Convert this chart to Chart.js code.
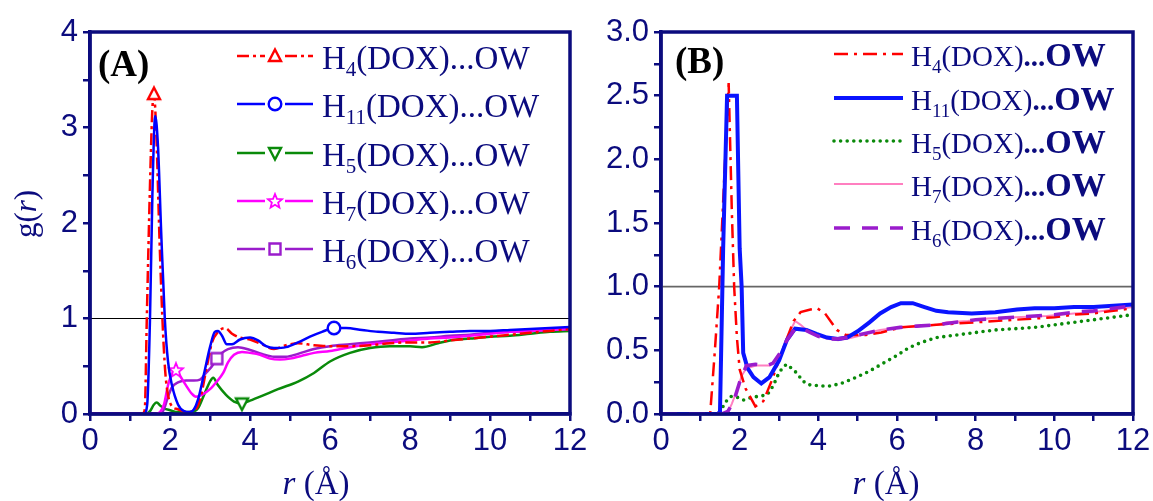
<!DOCTYPE html>
<html>
<head>
<meta charset="utf-8">
<script src="https://cdn.jsdelivr.net/npm/chart.js@4.4.0/dist/chart.umd.min.js"></script>
<style>
  body { margin: 0; background: #fff; }
  #wrap { position: relative; width: 1153px; height: 501px; overflow: hidden; background: #fff; }
  canvas { position: absolute; top: 0; }
  #cA { left: 0; }
  #cB { left: 580px; }
</style>
</head>
<body>
<div id="wrap">
  <canvas id="cA" width="600" height="501"></canvas>
  <canvas id="cB" width="573" height="501"></canvas>
</div>
<script>
const NAVY = '#0b0b7e';
const SERIF = '"Liberation Serif", "Times New Roman", serif';
const SANS = '"Liberation Sans", Arial, sans-serif';

// legend subscripts, same order in both panels: H4, H11, H5, H7, H6
const subs = ['4', '11', '5', '7', '6'];

// panel A: r (Angstrom) and g(r)
const rA_H4 = [0, 1.3, 1.37, 1.42, 1.5, 1.56, 1.6, 1.66, 1.74, 1.81, 1.88, 1.95, 2.05, 2.2, 2.4, 2.6, 2.75, 2.9, 3.05, 3.2, 3.38, 3.55, 3.75, 4.0, 4.3, 4.6, 4.9, 5.2, 5.6, 6.0, 6.5, 7.0, 7.5, 8.0, 8.5, 9.0, 9.5, 10.0, 10.5, 11.0, 11.5, 12.0];
const gA_H4 = [0, 0, 0.05, 1.0, 2.4, 3.2, 3.35, 2.9, 1.8, 1.0, 0.45, 0.2, 0.08, 0.05, 0.02, 0.03, 0.15, 0.45, 0.75, 0.86, 0.9, 0.84, 0.8, 0.78, 0.73, 0.68, 0.72, 0.74, 0.72, 0.71, 0.71, 0.72, 0.74, 0.75, 0.75, 0.77, 0.79, 0.81, 0.83, 0.85, 0.87, 0.89];
const rA_H11 = [0, 1.35, 1.43, 1.5, 1.56, 1.63, 1.7, 1.78, 1.87, 1.95, 2.05, 2.2, 2.35, 2.5, 2.6, 2.7, 2.85, 3.0, 3.12, 3.2, 3.3, 3.42, 3.55, 3.75, 4.0, 4.2, 4.4, 4.6, 4.9, 5.2, 5.5, 5.8, 6.1, 6.4, 6.8, 7.2, 7.6, 8.0, 8.5, 9.0, 9.5, 10.0, 10.5, 11.0, 11.5, 12.0];
const gA_H11 = [0, 0, 0.1, 1.0, 2.3, 3.12, 2.8, 1.9, 1.0, 0.55, 0.3, 0.1, 0.03, 0.02, 0.05, 0.15, 0.42, 0.7, 0.86, 0.87, 0.82, 0.73, 0.73, 0.78, 0.8, 0.77, 0.71, 0.69, 0.7, 0.75, 0.81, 0.86, 0.9, 0.9, 0.88, 0.86, 0.85, 0.84, 0.85, 0.86, 0.87, 0.87, 0.88, 0.89, 0.9, 0.91];
const rA_H5 = [0, 1.4, 1.5, 1.6, 1.67, 1.75, 1.85, 2.0, 2.2, 2.5, 2.7, 2.85, 3.0, 3.08, 3.2, 3.4, 3.6, 3.8, 4.0, 4.3, 4.7, 5.2, 5.6, 6.0, 6.5, 7.0, 7.5, 8.0, 8.3, 8.7, 9.0, 9.5, 10.0, 10.5, 11.0, 11.5, 12.0];
const gA_H5 = [0, 0, 0.03, 0.1, 0.12, 0.09, 0.06, 0.04, 0.02, 0.02, 0.06, 0.2, 0.34, 0.38, 0.3, 0.2, 0.13, 0.11, 0.14, 0.19, 0.26, 0.34, 0.43, 0.55, 0.64, 0.69, 0.71, 0.71, 0.7, 0.74, 0.77, 0.79, 0.81, 0.82, 0.84, 0.86, 0.87];
const rA_H7 = [0, 1.6, 1.75, 1.85, 1.95, 2.05, 2.15, 2.25, 2.4, 2.55, 2.65, 2.8, 3.0, 3.15, 3.33, 3.45, 3.6, 3.8, 4.0, 4.25, 4.5, 4.75, 5.0, 5.3, 5.6, 6.0, 6.5, 7.0, 7.5, 8.0, 8.5, 9.0, 9.5, 10.0, 10.5, 11.0, 11.5, 12.0];
const gA_H7 = [0, 0, 0.02, 0.1, 0.3, 0.42, 0.46, 0.4, 0.3, 0.21, 0.18, 0.2, 0.26, 0.33, 0.43, 0.54, 0.62, 0.65, 0.64, 0.62, 0.58, 0.57, 0.58, 0.61, 0.64, 0.66, 0.7, 0.73, 0.75, 0.77, 0.79, 0.8, 0.82, 0.84, 0.86, 0.87, 0.88, 0.89];
const rA_H6 = [0, 1.75, 1.85, 1.95, 2.05, 2.2, 2.4, 2.6, 2.75, 2.9, 3.05, 3.17, 3.3, 3.45, 3.7, 4.0, 4.3, 4.6, 4.9, 5.2, 5.6, 6.0, 6.5, 7.0, 7.5, 8.0, 8.5, 9.0, 9.5, 10.0, 10.5, 11.0, 11.5, 12.0];
const gA_H6 = [0, 0, 0.05, 0.18, 0.28, 0.33, 0.35, 0.35, 0.36, 0.43, 0.5, 0.58, 0.64, 0.68, 0.7, 0.67, 0.63, 0.6, 0.6, 0.63, 0.68, 0.71, 0.73, 0.75, 0.77, 0.79, 0.8, 0.82, 0.83, 0.85, 0.86, 0.87, 0.88, 0.89];
// r where each panel A curve carries its symbol
const markA = [1.6, 6.1, 3.8, 2.15, 3.17];

// panel B
const rB_H4 = [0, 1.25, 1.37, 1.48, 1.6, 1.72, 1.8, 1.86, 1.93, 2.0, 2.15, 2.4, 2.6, 2.8, 2.94, 3.15, 3.37, 3.55, 3.8, 3.97, 4.17, 4.47, 4.7, 5.2, 5.6, 6.1, 6.5, 7.0, 7.5, 8.0, 8.5, 9.0, 9.5, 10.0, 10.5, 11.0, 11.5, 12.0];
const gB_H4 = [0, 0, 0.5, 1.0, 1.8, 2.6, 1.6, 1.0, 0.6, 0.35, 0.2, 0.06, 0.1, 0.25, 0.37, 0.55, 0.73, 0.8, 0.82, 0.83, 0.79, 0.66, 0.62, 0.62, 0.64, 0.68, 0.69, 0.7, 0.71, 0.72, 0.73, 0.74, 0.75, 0.76, 0.78, 0.79, 0.81, 0.83];
const rB_H11 = [0, 1.45, 1.5, 1.58, 1.68, 1.93, 2.0, 2.05, 2.09, 2.2, 2.35, 2.55, 2.76, 3.0, 3.2, 3.41, 3.7, 3.95, 4.22, 4.5, 4.73, 5.0, 5.3, 5.57, 5.85, 6.1, 6.4, 6.7, 7.0, 7.3, 7.9, 8.5, 9.05, 9.5, 10.0, 10.5, 11.0, 11.5, 12.0];
const gB_H11 = [0, 0, 0.02, 1.3, 2.5, 2.5, 1.3, 1.0, 0.48, 0.36, 0.29, 0.24, 0.29, 0.42, 0.58, 0.67, 0.66, 0.63, 0.6, 0.59, 0.6, 0.65, 0.72, 0.79, 0.84, 0.87, 0.87, 0.84, 0.81, 0.8, 0.79, 0.8, 0.82, 0.83, 0.83, 0.84, 0.84, 0.85, 0.86];
const rB_H5 = [0, 1.45, 1.5, 1.6, 1.7, 1.8, 1.95, 2.1, 2.3, 2.5, 2.7, 2.85, 2.98, 3.1, 3.2, 3.35, 3.46, 3.6, 3.75, 4.05, 4.3, 4.58, 4.9, 5.26, 5.6, 6.0, 6.3, 6.6, 7.0, 7.5, 8.0, 8.5, 9.0, 9.5, 10.0, 10.5, 11.0, 11.5, 12.0];
const gB_H5 = [0, 0, 0.02, 0.07, 0.12, 0.14, 0.13, 0.11, 0.13, 0.14, 0.15, 0.22, 0.31, 0.37, 0.39, 0.35, 0.32, 0.26, 0.23, 0.22, 0.22, 0.24, 0.28, 0.33, 0.39, 0.46, 0.52, 0.56, 0.6, 0.62, 0.64, 0.66, 0.67, 0.68, 0.7, 0.72, 0.74, 0.76, 0.78];
const rB_H7 = [0, 1.6, 1.71, 1.8, 1.95, 2.05, 2.17, 2.42, 2.76, 3.03, 3.2, 3.41, 3.55, 3.7, 3.95, 4.22, 4.5, 4.73, 5.0, 5.3, 5.57, 6.08, 6.5, 7.0, 7.27, 7.8, 8.3, 9.0, 9.8, 10.5, 11.0, 11.5, 12.0];
const gB_H7 = [0, 0, 0.02, 0.08, 0.2, 0.3, 0.36, 0.38, 0.38, 0.46, 0.6, 0.73, 0.7, 0.66, 0.62, 0.59, 0.58, 0.59, 0.61, 0.64, 0.66, 0.68, 0.69, 0.7, 0.72, 0.73, 0.75, 0.76, 0.77, 0.79, 0.8, 0.82, 0.84];
const rB_H6 = [0, 1.55, 1.7, 1.85, 2.0, 2.17, 2.4, 2.7, 2.85, 3.03, 3.2, 3.41, 3.6, 3.8, 4.0, 4.22, 4.5, 4.73, 5.0, 5.3, 5.6, 6.08, 6.5, 7.0, 7.5, 8.0, 8.5, 9.0, 9.5, 10.0, 10.5, 11.0, 11.5, 12.0];
const gB_H6 = [0, 0, 0.02, 0.1, 0.25, 0.38, 0.39, 0.38, 0.4, 0.48, 0.58, 0.67, 0.67, 0.64, 0.61, 0.59, 0.59, 0.6, 0.62, 0.64, 0.66, 0.68, 0.69, 0.7, 0.72, 0.74, 0.75, 0.76, 0.77, 0.78, 0.8, 0.81, 0.83, 0.85];

const pts = (r, g) => r.map((x, i) => ({ x: x, y: g[i] }));

// open symbols drawn once on small canvases, used as point styles and in the legend
function makeMarker(kind, color) {
  const s = 18, m = s / 2;
  const c = document.createElement('canvas');
  c.width = s; c.height = s;
  const x = c.getContext('2d');
  x.strokeStyle = color;
  x.fillStyle = '#fff';
  x.lineWidth = 2.4;
  x.beginPath();
  if (kind === 'tri') {
    x.moveTo(m, 2.5); x.lineTo(s - 3, s - 4); x.lineTo(3, s - 4); x.closePath();
  } else if (kind === 'tridown') {
    x.moveTo(3, 4); x.lineTo(s - 3, 4); x.lineTo(m, s - 2.5); x.closePath();
  } else if (kind === 'circ') {
    x.arc(m, m, 6.3, 0, Math.PI * 2);
  } else if (kind === 'sq') {
    x.rect(3.5, 3.5, s - 7, s - 7);
  } else if (kind === 'star') {
    for (let k = 0; k < 10; k++) {
      const rr = k % 2 === 0 ? 7.5 : 3.3;
      const a = -Math.PI / 2 + k * Math.PI / 5;
      const px = m + rr * Math.cos(a), py = m + 0.5 + rr * Math.sin(a);
      if (k === 0) x.moveTo(px, py); else x.lineTo(px, py);
    }
    x.closePath();
    x.lineWidth = 1.8;
  }
  x.fill();
  x.stroke();
  return c;
}

const styleA = [
  { color: '#ff0000', dash: [12, 4, 3, 4], width: 2.5, mark: 'tri', order: 1 },
  { color: '#0000ff', dash: [], width: 2.5, mark: 'circ', order: 0 },
  { color: '#0a8a0a', dash: [], width: 2.5, mark: 'tridown', order: 4 },
  { color: '#ff00ff', dash: [], width: 2.5, mark: 'star', order: 2 },
  { color: '#9a1ccc', dash: [], width: 2.5, mark: 'sq', order: 3 }
];
const styleB = [
  { color: '#ff0000', dash: [14, 6, 3, 6], width: 2.5, order: 2 },
  { color: '#0a14ff', dash: [], width: 4, order: 1 },
  { color: '#0a8a0a', dash: [0, 6.6], width: 3.6, cap: 'round', order: 4 },
  { color: '#ff7fc0', dash: [], width: 2, order: 3 },
  { color: '#9a1ccc', dash: [16, 12], width: 3.6, order: 0 }
];
styleA.forEach(s => { s.img = makeMarker(s.mark, s.color); });

const curvesA = [[rA_H4, gA_H4], [rA_H11, gA_H11], [rA_H5, gA_H5], [rA_H7, gA_H7], [rA_H6, gA_H6]];
const curvesB = [[rB_H4, gB_H4], [rB_H11, gB_H11], [rB_H5, gB_H5], [rB_H7, gB_H7], [rB_H6, gB_H6]];

const datasetsA = curvesA.map((c, i) => ({
  data: pts(c[0], c[1]),
  showLine: true,
  borderColor: styleA[i].color,
  borderWidth: styleA[i].width,
  borderDash: styleA[i].dash,
  cubicInterpolationMode: 'monotone',
  pointStyle: styleA[i].img,
  pointRadius: ctx => (ctx.raw && ctx.raw.x === markA[i]) ? 8 : 0,
  order: styleA[i].order
}));
const datasetsB = curvesB.map((c, i) => ({
  data: pts(c[0], c[1]),
  showLine: true,
  borderColor: styleB[i].color,
  borderWidth: styleB[i].width,
  borderDash: styleB[i].dash,
  borderCapStyle: styleB[i].cap || 'butt',
  tension: 0,
  pointRadius: 0,
  order: styleB[i].order
}));

function drawName(ctx, x, y, sub, f) {
  ctx.fillStyle = NAVY;
  ctx.textBaseline = 'alphabetic';
  ctx.textAlign = 'left';
  ctx.font = f.size + 'px ' + SERIF;
  ctx.fillText('H', x, y);
  x += ctx.measureText('H').width;
  ctx.font = f.sub + 'px ' + SERIF;
  ctx.fillText(sub, x, y + f.subDy);
  x += ctx.measureText(sub).width;
  ctx.font = f.size + 'px ' + SERIF;
  ctx.fillText('(DOX)', x, y);
  x += ctx.measureText('(DOX)').width;
  if (f.bold) {
    ctx.font = 'bold ' + f.size + 'px ' + SERIF;
    ctx.fillText('...', x, y);
    x += ctx.measureText('...').width;
    ctx.font = 'bold ' + f.bold + 'px ' + SERIF;
    ctx.fillText('OW', x, y);
  } else {
    ctx.fillText('...OW', x, y);
  }
}

function deco(cfg) {
  return {
    id: 'deco',
    beforeDatasetsDraw(chart) {
      const { ctx, chartArea: a, scales } = chart;
      const y = scales.y.getPixelForValue(1);
      ctx.save();
      ctx.strokeStyle = cfg.refColor;
      ctx.lineWidth = cfg.refWidth;
      ctx.beginPath();
      ctx.moveTo(a.left, y);
      ctx.lineTo(a.right, y);
      ctx.stroke();
      ctx.restore();
    },
    afterDraw(chart) {
      const { ctx, chartArea: a } = chart;
      ctx.save();
      // frame
      ctx.strokeStyle = NAVY;
      ctx.lineWidth = 3.5;
      ctx.strokeRect(a.left, a.top, a.right - a.left, a.bottom - a.top);

      // panel letter
      ctx.fillStyle = '#000';
      ctx.font = 'bold 37px ' + SERIF;
      ctx.textBaseline = 'middle';
      ctx.textAlign = 'left';
      ctx.fillText(cfg.letter, cfg.letterX, cfg.letterY);

      // x title: r (Å)
      ctx.fillStyle = NAVY;
      ctx.textBaseline = 'alphabetic';
      ctx.font = 'italic 33px ' + SERIF;
      const w1 = ctx.measureText('r').width;
      ctx.font = '33px ' + SERIF;
      const w2 = ctx.measureText(' (\u00C5)').width;
      const x0 = cfg.xTitleX - (w1 + w2) / 2;
      ctx.font = 'italic 33px ' + SERIF;
      ctx.fillText('r', x0, 494);
      ctx.font = '33px ' + SERIF;
      ctx.fillText(' (\u00C5)', x0 + w1, 494);

      // y title: g(r)
      if (cfg.yTitle) {
        ctx.save();
        ctx.translate(cfg.yTitle[0], cfg.yTitle[1]);
        ctx.rotate(-Math.PI / 2);
        ctx.textBaseline = 'middle';
        ctx.font = '31px ' + SERIF;
        const a1 = ctx.measureText('g(').width, a3 = ctx.measureText(')').width;
        ctx.font = 'italic 31px ' + SERIF;
        const a2 = ctx.measureText('r').width;
        const t = -(a1 + a2 + a3) / 2;
        ctx.font = '31px ' + SERIF;
        ctx.fillText('g(', t, 0);
        ctx.font = 'italic 31px ' + SERIF;
        ctx.fillText('r', t + a1, 0);
        ctx.font = '31px ' + SERIF;
        ctx.fillText(')', t + a1 + a2, 0);
        ctx.restore();
      }

      // legend
      const L = cfg.legend;
      L.styles.forEach((s, i) => {
        const y = L.rows[i];
        const mid = (L.x0 + L.x1) / 2;
        ctx.strokeStyle = s.color;
        ctx.lineWidth = s.width;
        ctx.setLineDash(s.dash);
        ctx.lineCap = s.cap || 'butt';
        ctx.beginPath();
        if (s.img) {
          ctx.moveTo(L.x0, y); ctx.lineTo(mid - 10, y);
          ctx.moveTo(mid + 10, y); ctx.lineTo(L.x1, y);
        } else {
          ctx.moveTo(L.x0, y); ctx.lineTo(L.x1, y);
        }
        ctx.stroke();
        ctx.setLineDash([]);
        if (s.img) ctx.drawImage(s.img, mid - s.img.width / 2, y - s.img.height / 2);
        drawName(ctx, L.tx, y + L.dy, subs[i], L.font);
      });
      ctx.restore();
    }
  };
}

function axes(yMax, yStep, yFmt, yWidth) {
  const tickFont = { family: SANS, size: 31 };
  return {
    x: {
      type: 'linear', min: 0, max: 12,
      ticks: {
        stepSize: 1, autoSkip: false, maxRotation: 0, color: NAVY, font: tickFont, padding: 2,
        callback: v => (v % 2 === 0 ? String(v) : '')
      },
      grid: { drawOnChartArea: false, color: NAVY, lineWidth: 2.5, tickLength: 7 },
      border: { color: NAVY, width: 3.5 },
      afterFit: s => { s.height = 87; }
    },
    y: {
      min: 0, max: yMax,
      ticks: {
        stepSize: yStep, autoSkip: false, color: NAVY, font: tickFont, padding: 5,
        callback: yFmt
      },
      grid: { drawOnChartArea: false, color: NAVY, lineWidth: 2.5, tickLength: 7 },
      border: { color: NAVY, width: 3.5 },
      afterFit: s => { s.width = yWidth; }
    }
  };
}

const common = {
  responsive: false,
  animation: false,
  devicePixelRatio: 1,
  plugins: { legend: { display: false }, tooltip: { enabled: false } },
  events: []
};

new Chart(document.getElementById('cA'), {
  type: 'scatter',
  data: { datasets: datasetsA },
  options: Object.assign({}, common, {
    layout: { padding: { top: 32, right: 30, left: 0, bottom: 0 } },
    scales: axes(4, 0.5, v => (Math.abs(v - Math.round(v)) < 1e-6 ? String(Math.round(v)) : ''), 90)
  }),
  plugins: [deco({
    refColor: '#000', refWidth: 1.2,
    letter: '(A)', letterX: 98, letterY: 66,
    xTitleX: 316, yTitle: [28, 214],
    legend: {
      styles: styleA, rows: [56, 104, 153, 201, 249], x0: 237, x1: 313, tx: 322, dy: 13,
      font: { size: 33, sub: 21, subDy: 7 }
    }
  })]
});

new Chart(document.getElementById('cB'), {
  type: 'scatter',
  data: { datasets: datasetsB },
  options: Object.assign({}, common, {
    layout: { padding: { top: 32, right: 20, left: 0, bottom: 0 } },
    scales: axes(3, 0.25, v => (Math.abs(v * 2 - Math.round(v * 2)) < 1e-6 ? v.toFixed(1) : ''), 81)
  }),
  plugins: [deco({
    refColor: '#666', refWidth: 1.6,
    letter: '(B)', letterX: 95, letterY: 63,
    xTitleX: 306, yTitle: null,
    legend: {
      styles: styleB, rows: [54, 98, 141, 184, 228], x0: 254, x1: 323, tx: 331, dy: 12,
      font: { size: 29, sub: 19, subDy: 7, bold: 34 }
    }
  })]
});
</script>
</body>
</html>
